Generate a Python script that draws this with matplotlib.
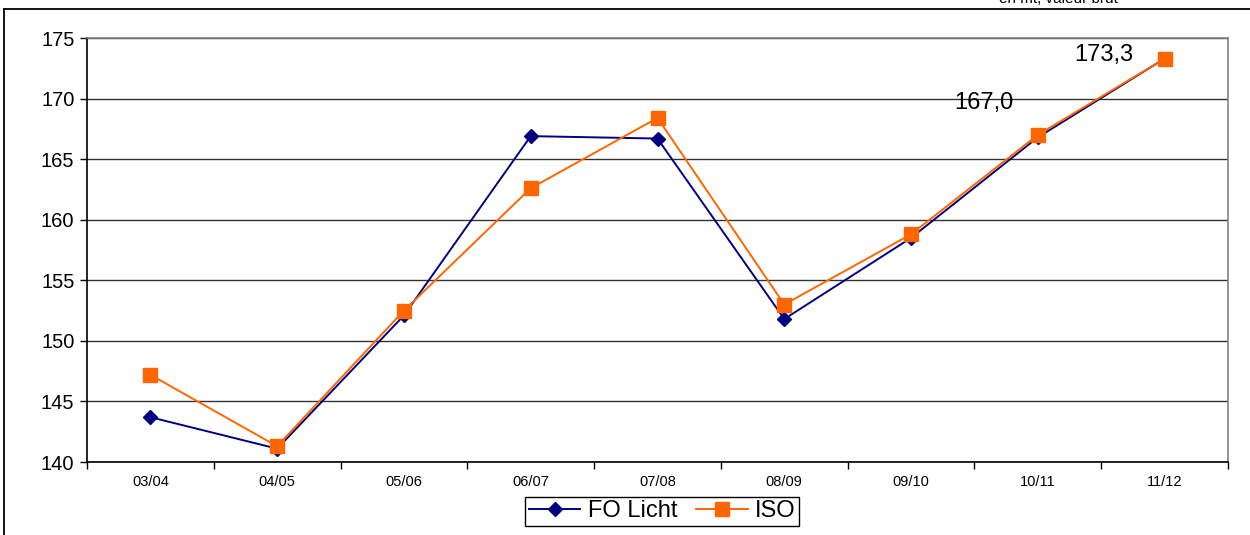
import numpy as np
import matplotlib.pyplot as plt
from matplotlib.lines import Line2D

plt.rcParams['font.family'] = ['Liberation Sans', 'DejaVu Sans']

seasons = ['03/04', '04/05', '05/06', '06/07', '07/08', '08/09', '09/10', '10/11', '11/12']
fo_licht = [143.7, 141.1, 152.1, 166.9, 166.7, 151.8, 158.5, 166.8, 173.3]
iso = [147.2, 141.3, 152.5, 162.6, 168.4, 153.0, 158.8, 167.0, 173.3]

# labels shown on the chart (index, text, offset in pixels)
labels = [(7, '167,0', (-24, 32)), (8, '173,3', (-31, 4))]

fig = plt.figure(figsize=(12.5, 5.35), dpi=100)
ax = fig.add_axes([87 / 1250, 73 / 535, 1141 / 1250, 424 / 535])

x = np.arange(len(seasons))
ax.plot(x, fo_licht, color='#000080', lw=1.4, marker='D', ms=7.5, label='FO Licht', zorder=3)
ax.plot(x, iso, color='#FF6600', lw=1.4, marker='s', ms=9.5, label='ISO', zorder=4)

for i, txt, off in labels:
    ax.annotate(txt, (x[i], iso[i]), xytext=off, textcoords='offset pixels',
                ha='right', va='center', fontsize=17)

ax.set_xlim(-0.5, len(seasons) - 0.5)
ax.set_ylim(140, 175)
ax.set_yticks(np.arange(140, 176, 5))
ax.set_xticks(x)
ax.set_xticklabels(seasons, fontsize=10.5)
ax.set_xticks(np.arange(-0.5, len(seasons), 1), minor=True)
ax.tick_params(axis='x', which='major', length=0, pad=9)
ax.tick_params(axis='x', which='minor', length=5, direction='out', width=1)
ax.tick_params(axis='y', labelsize=14.5, length=5, width=1, pad=4)
ax.grid(axis='y', color='#333333', lw=1)
ax.set_axisbelow(True)
ax.spines['top'].set_color('#808080')
ax.spines['right'].set_color('#808080')
for s in ax.spines.values():
    s.set_linewidth(1.2)

ax.legend(loc='upper center', bbox_to_anchor=(0.504, -0.082), ncol=2, fontsize=17,
          frameon=True, fancybox=False, edgecolor='black', framealpha=1,
          handlelength=2.2, handletextpad=0.3, columnspacing=0.8, borderpad=0.15,
          borderaxespad=0)

# outer frame (partly cropped) and cut-off unit text
fig.add_artist(Line2D([4 / 1250, 4 / 1250], [0, 1 - 9 / 535], color='black', lw=1.3))
fig.add_artist(Line2D([4 / 1250, 1], [1 - 9 / 535, 1 - 9 / 535], color='black', lw=1.3))
fig.text(1058 / 1250, 1 - 6 / 535, 'en mt, valeur brut', ha='center', va='bottom', fontsize=11)

fig.savefig('out.png', dpi=100)
